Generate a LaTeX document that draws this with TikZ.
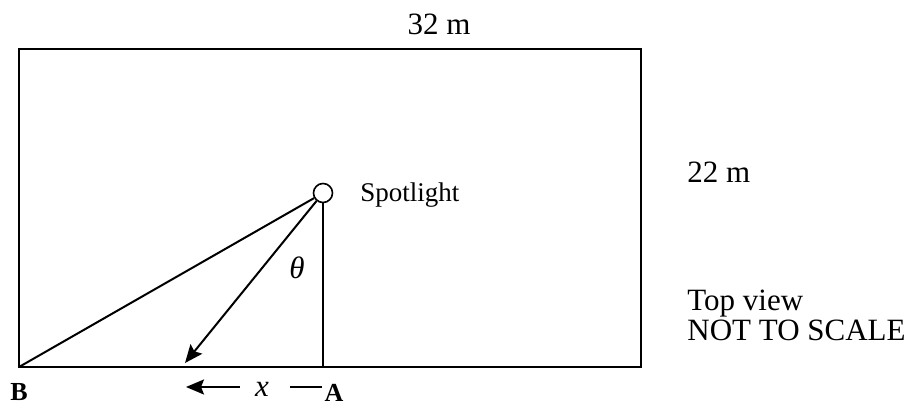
\documentclass[tikz,border=0pt]{standalone}
\usepackage{fontspec}
\setmainfont{Liberation Serif}
\usetikzlibrary{arrows.meta}

\begin{document}
\begin{tikzpicture}[x=0.5pt,y=-0.5pt, every node/.style={font=\fontsize{15.5}{18}\selectfont,inner sep=0pt}, lamp/.style={draw,circle,line width=0.8pt,minimum size=9.5pt,fill=white}, ray/.style={line width=1pt}, arr/.style={line width=1pt,-{Stealth[length=9pt,width=7.5pt,inset=1.5pt]}}, pt/.style={font=\fontsize{13}{15}\selectfont\bfseries}]
 \useasboundingbox (0,0) rectangle (914,405);
 % room, top view
 \coordinate (nw) at (19,49);
 \coordinate (se) at (641,367);
 \coordinate (cB) at (19,367);
 \coordinate (cA) at (323,367);
 \coordinate (hit) at (185,363);
 \draw[line width=0.8pt] (nw) rectangle (se);
 \node[lamp] (spot) at (323,193) {};
 \draw[ray] (spot) -- (cB);
 \draw[line width=0.7pt] (spot) -- (cA);
 \draw[arr] (spot) -- (hit);
 \node[anchor=base west,font=\fontsize{13.5}{16}\selectfont] (spotlbl) at (360,202) {Spotlight};
 \node (theta) at (297,268) {\textit{θ}};
 % labels
 \node[anchor=base] (len) at (439,35) {32 m};
 \node[anchor=base west] (wid) at (687,183) {22 m};
 \node[anchor=base west] (view) at (687,311) {Top view};
 \node[anchor=base west] (scale) at (687,341) {NOT TO SCALE};
 \node[pt,anchor=base] (B) at (19,400) {B};
 \node[pt,anchor=base] (A) at (334,401) {A};
 % distance x
 \node (xl) at (262,389) {\textit{x}};
 \coordinate (xtail) at (240,387);
 \coordinate (xtip) at (186,387);
 \coordinate (dl) at (290,387);
 \coordinate (dr) at (322,387);
 \draw[arr] (xtail) -- (xtip);
 \draw[line width=1pt] (dl) -- (dr);
\end{tikzpicture}
\end{document}
